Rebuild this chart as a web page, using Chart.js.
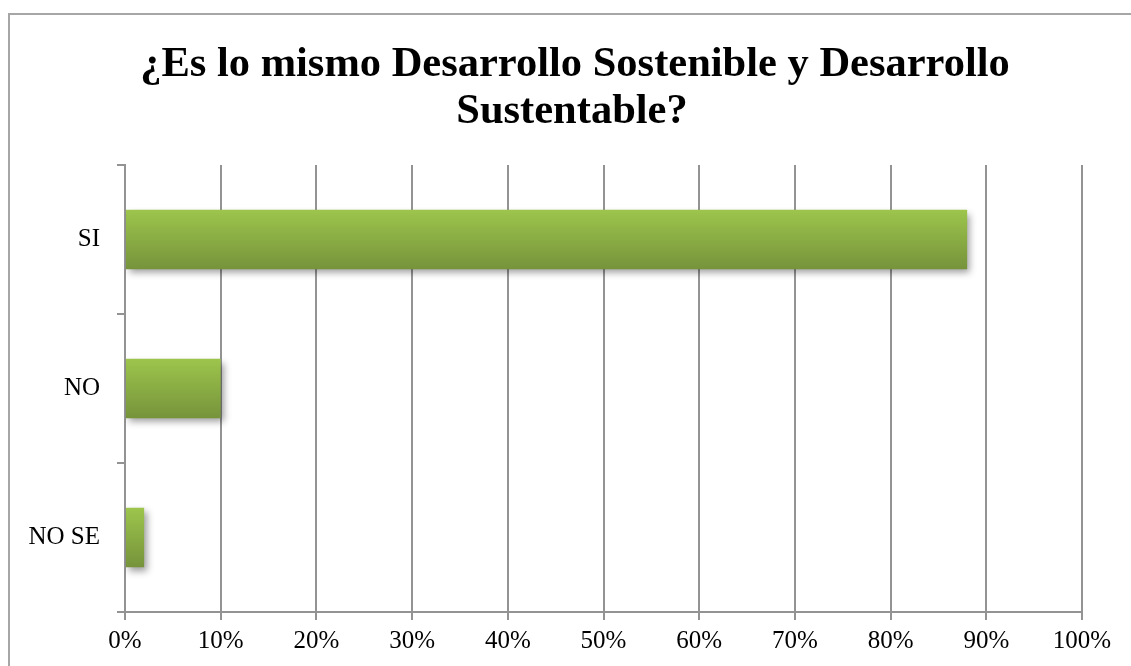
<!DOCTYPE html>
<html>
<head>
<meta charset="utf-8">
<script src="https://cdn.jsdelivr.net/npm/chart.js@4/dist/chart.umd.min.js"></script>
<style>
  html, body { margin: 0; padding: 0; background: #fff; }
  #wrap { width: 1131px; height: 666px; position: relative; }
</style>
</head>
<body>
<div id="wrap"><canvas id="chart" width="1131" height="666"></canvas></div>
<script>
const categories = ["SI", "NO", "NO SE"];
const answers = [88, 10, 2];
const title_lines = ["¿Es lo mismo Desarrollo Sostenible y Desarrollo", "Sustentable?"];
const x_ticks = [0, 10, 20, 30, 40, 50, 60, 70, 80, 90, 100];

const grey = "#939393";
const serif = "'Liberation Serif', 'Times New Roman', serif";

// left + top frame of the chart box, and the two-line title
const frame = {
    id: "frame",
    beforeDraw(chart) {
        const ctx = chart.ctx;
        ctx.save();
        ctx.strokeStyle = "#a6a6a6";
        ctx.lineWidth = 2;
        ctx.beginPath();
        ctx.moveTo(9, 666);
        ctx.lineTo(9, 14);
        ctx.lineTo(1131, 14);
        ctx.stroke();

        ctx.fillStyle = "#000";
        ctx.font = "bold 42.5px " + serif;
        ctx.textAlign = "center";
        ctx.textBaseline = "alphabetic";
        ctx.fillText(title_lines[0], 575, 76);
        ctx.fillText(title_lines[1], 572, 123);
        ctx.restore();
    },
};

// green gradient + soft shadow on the bars
const bar_look = {
    id: "bar_look",
    beforeDatasetsDraw(chart) {
        const ctx = chart.ctx;
        chart.getDatasetMeta(0).data.forEach((bar) => {
            const top = bar.y - bar.height / 2;
            const g = ctx.createLinearGradient(0, top, 0, top + bar.height);
            g.addColorStop(0, "#9dc54c");
            g.addColorStop(1, "#76933b");
            bar.options.backgroundColor = g;
        });
        ctx.save();
        ctx.shadowColor = "rgba(0,0,0,0.38)";
        ctx.shadowBlur = 7;
        ctx.shadowOffsetX = 3;
        ctx.shadowOffsetY = 4;
    },
    afterDatasetsDraw(chart) {
        chart.ctx.restore();
    },
};

const ctx = document.getElementById("chart").getContext("2d");
const chart = new Chart(ctx, {
    type: "bar",
    data: {
        labels: categories,
        datasets: [
            {
                data: answers,
                backgroundColor: () => "#8bb043",
                borderWidth: 0,
                barPercentage: 0.4,
                categoryPercentage: 1,
            },
        ],
    },
    options: {
        indexAxis: "y",
        responsive: false,
        animation: false,
        layout: { padding: { left: 18, right: 49, top: 165, bottom: 0 } },
        plugins: {
            legend: { display: false },
            tooltip: { enabled: false },
            title: { display: false },
        },
        scales: {
            x: {
                min: 0,
                max: 100,
                afterFit: (s) => { s.height = 54; },
                afterBuildTicks: (s) => { s.ticks = x_ticks.map((v) => ({ value: v })); },
                ticks: {
                    color: "#000",
                    padding: 6,
                    font: { family: serif, size: 25 },
                    callback: (v) => v + "%",
                },
                grid: { color: grey, lineWidth: 2, tickLength: 8 },
                border: { color: grey, width: 2 },
            },
            y: {
                afterFit: (s) => { s.width = 107; },
                ticks: {
                    color: "#000",
                    padding: 17,
                    font: { family: serif, size: 25 },
                },
                grid: {
                    offset: true,
                    drawOnChartArea: false,
                    color: grey,
                    lineWidth: 2,
                    tickLength: 8,
                },
                border: { color: grey, width: 2 },
            },
        },
    },
    plugins: [frame, bar_look],
});
</script>
</body>
</html>
